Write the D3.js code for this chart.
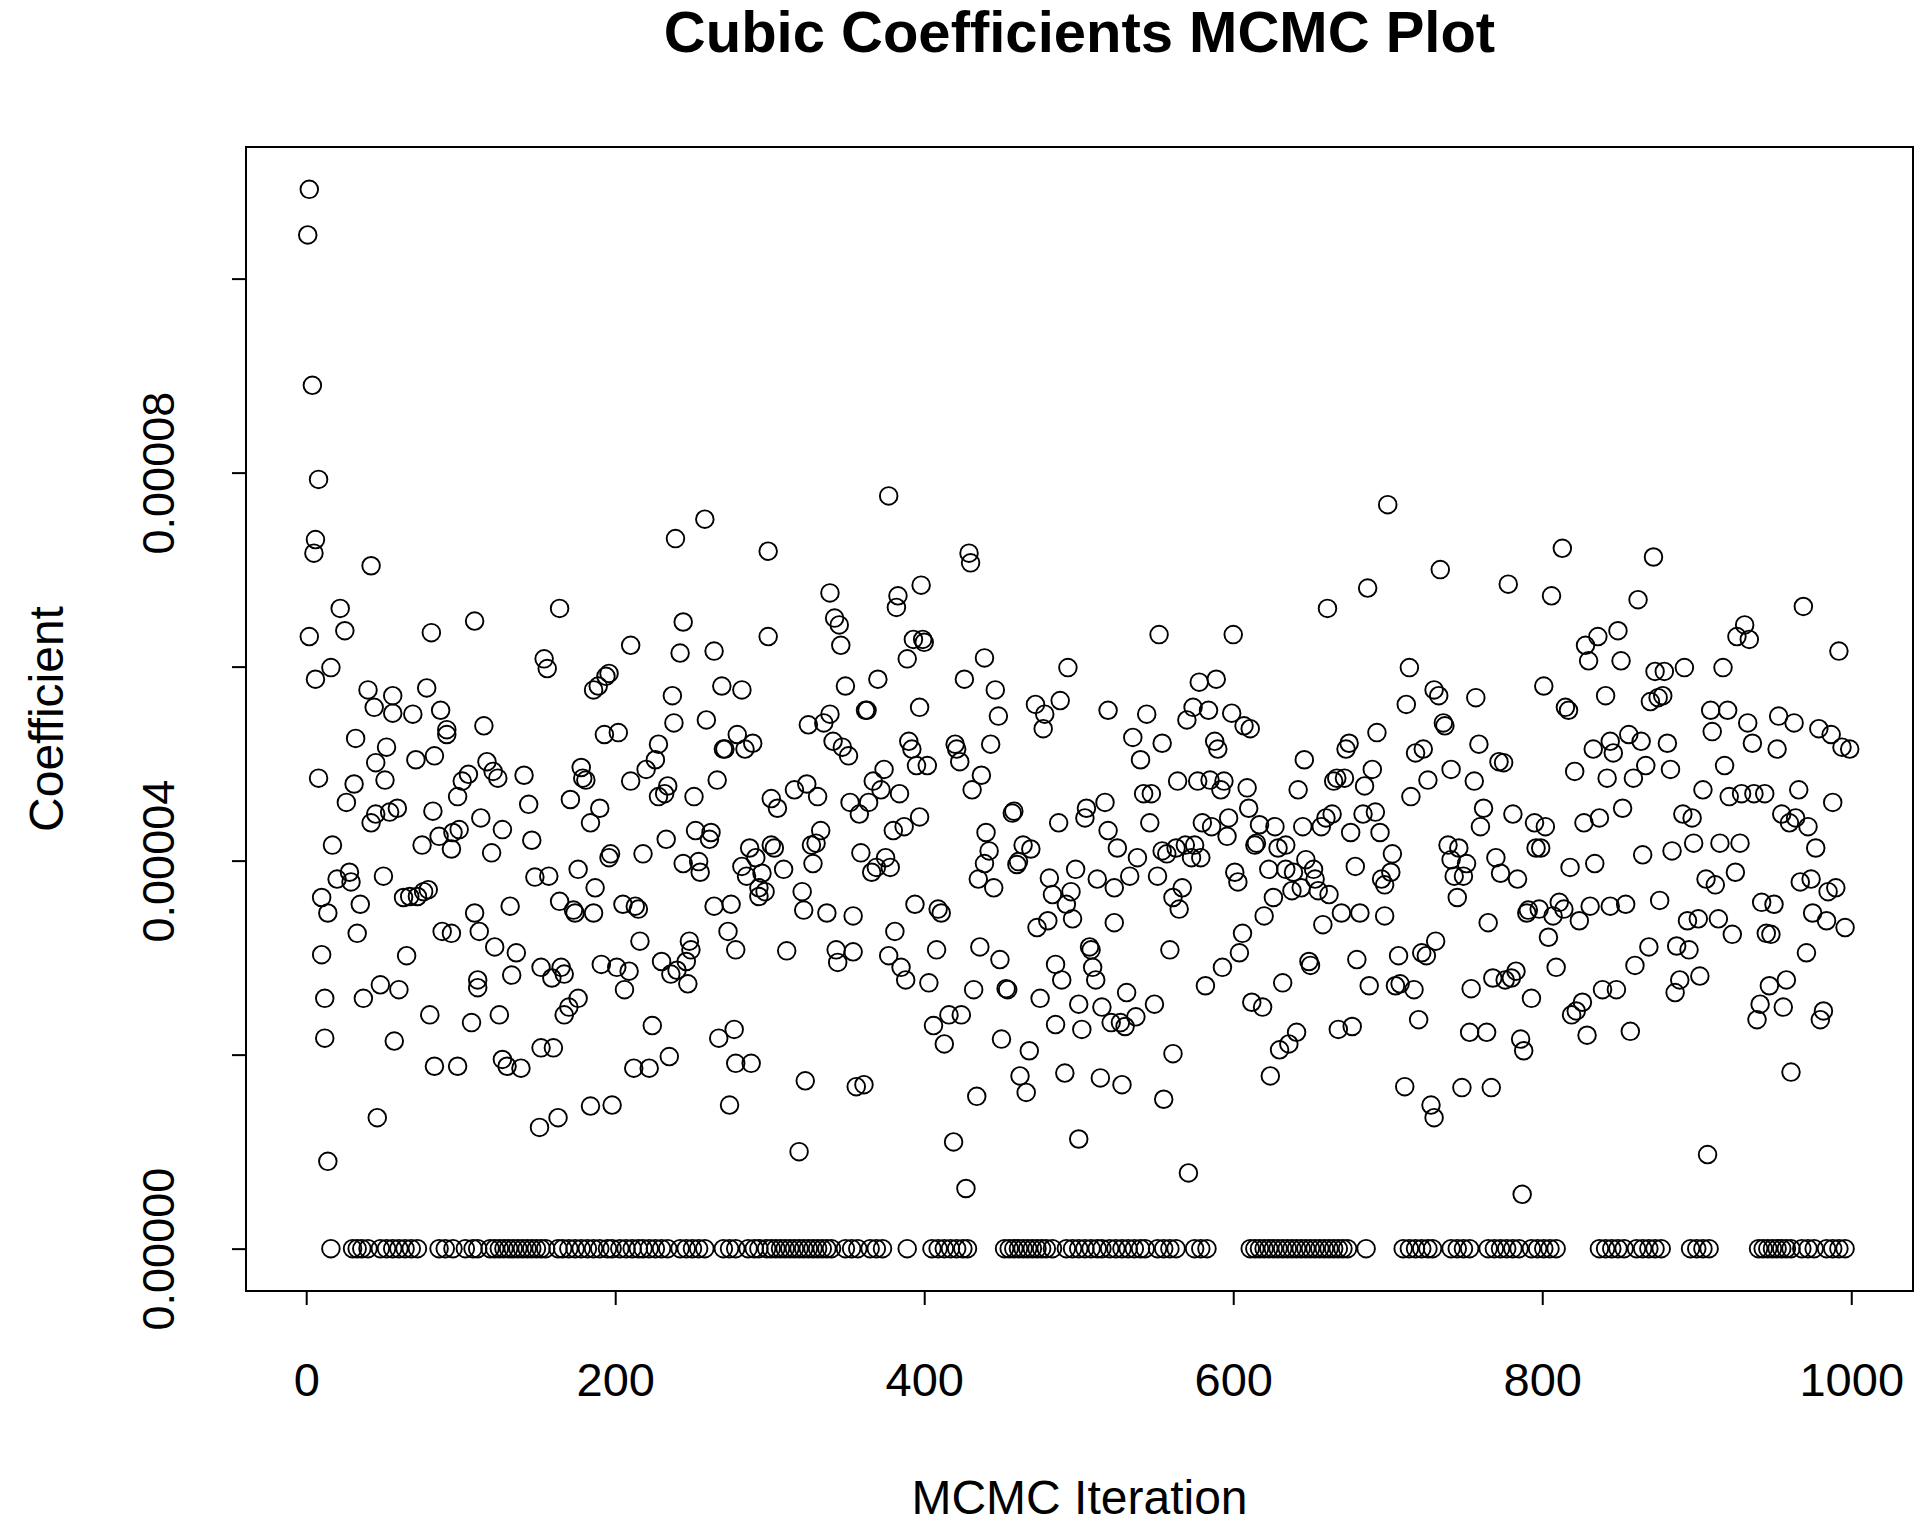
<!DOCTYPE html>
<html>
<head>
<meta charset="utf-8">
<script src="https://cdn.jsdelivr.net/npm/d3@7"></script>
<style>
  body { margin: 0; background: #fff; }
  svg text { font-family: "Liberation Sans", Arial, sans-serif; fill: #000; }
</style>
</head>
<body>
<div id="chart"></div>
<script>
// MCMC draws of the cubic coefficient, values in units of 1e-5
const sampleIter = [
  2,1,4,8,6,5,2,6,16,8,17,10,14,10,12,12,14,22,25,20,28,29,26,31,32,33,35,37,40,42,42,45,44,45,46,48,50,51,52,54,
  56,56,57,59,60,63,65,67,69,71,72,75,76,78,79,81,80,82,83,83,86,87,88,91,91,94,95,94,98,98,99,101,105,107,109,109,112,111,111,113,
  115,117,120,121,122,124,125,127,127,130,132,133,136,139,141,144,146,148,151,152,154,156,152,157,159,160,163,164,164,165,167,167,170,171,173,174,176,176,178,179,
  181,184,184,186,187,186,189,190,191,193,194,196,196,197,198,201,202,205,206,209,210,210,212,213,215,216,218,220,222,224,226,228,228,230,232,233,234,235,236,237,
  238,239,240,242,244,244,246,247,248,249,251,252,254,255,258,259,261,262,264,264,266,267,269,270,271,273,274,275,277,278,278,279,282,282,284,285,287,288,289,291,
  293,293,295,297,299,299,301,301,303,305,309,311,316,319,321,322,323,324,325,327,328,330,331,333,335,337,339,339,341,342,343,344,345,346,347,349,351,352,354,354,
  356,358,359,361,362,363,364,366,367,369,370,372,374,375,377,377,378,380,381,382,383,384,385,387,388,389,390,392,393,394,395,397,397,398,399,400,402,403,406,408,
  409,411,413,416,419,420,421,423,424,426,427,429,430,431,432,434,435,436,437,439,439,440,442,443,445,446,448,449,450,453,454,457,458,460,461,462,464,466,468,469,
  472,473,475,477,478,480,481,483,485,485,487,488,489,491,492,493,495,496,498,500,500,502,504,505,507,508,509,511,512,514,515,517,519,519,521,523,523,525,527,528,
  530,531,533,535,537,538,540,542,544,546,547,549,551,552,554,554,555,557,559,561,561,563,564,565,567,569,570,571,573,574,575,577,578,579,580,582,584,585,586,588,
  589,590,592,593,594,596,597,599,600,601,603,604,606,607,609,610,611,612,614,615,617,619,620,623,624,626,627,629,630,632,634,634,636,638,639,641,642,644,645,646,
  647,649,650,652,653,655,657,658,660,661,662,664,665,667,668,670,672,673,675,676,677,679,680,682,684,685,687,688,690,692,693,695,696,698,698,700,702,703,705,707,
  708,711,712,714,715,717,718,720,722,723,725,726,728,730,730,731,733,734,736,737,739,741,741,743,745,746,748,749,751,753,754,756,757,759,760,762,764,765,767,768,
  770,772,773,775,776,778,780,781,783,784,786,787,788,790,791,793,795,796,798,799,801,802,804,806,807,809,811,813,814,815,817,818,819,821,822,824,826,827,828,829,
  830,831,833,834,836,837,839,841,842,844,844,846,848,849,851,852,854,856,857,859,860,862,864,865,867,869,870,872,873,875,876,878,879,881,883,884,886,887,889,891,
  892,894,895,897,898,901,902,904,906,907,909,910,912,914,915,917,918,920,921,923,925,926,928,929,931,933,934,936,937,939,941,942,944,945,947,948,950,952,953,955,
  956,958,960,961,963,964,966,967,969,971,972,974,975,977,979,980,982,984,985,987,988,990,992,994,996,999
];
const sampleCoef = [
  10.92,10.45,8.90,7.93,7.31,7.17,6.31,5.87,5.99,4.85,4.16,3.62,3.46,3.03,2.58,2.17,0.90,6.60,6.37,3.81,3.88,3.78,4.60,4.79,5.26,3.25,3.55,2.58,5.76,7.04,4.39,4.48,5.58,5.01,1.35,2.72,3.84,4.83,5.17,4.50,
  5.70,5.52,2.14,4.54,2.67,3.62,3.02,3.63,5.51,5.04,3.63,4.16,3.68,5.78,3.70,6.35,2.41,4.51,1.88,5.08,4.25,5.55,3.27,5.35,5.30,4.12,4.29,3.25,1.88,4.66,4.32,4.82,4.89,2.33,6.47,3.46,3.27,2.77,2.69,4.44,
  5.39,5.02,4.08,4.92,3.11,4.85,2.41,4.32,1.95,1.88,3.53,2.82,3.05,1.86,4.88,4.58,4.21,3.83,1.25,2.90,6.08,5.98,2.07,3.84,2.79,2.07,1.35,6.60,3.58,2.90,2.83,2.41,2.49,4.63,3.49,3.46,3.91,2.58,4.96,4.85,
  4.83,1.47,4.39,3.46,3.72,5.76,5.80,4.54,2.93,5.30,5.90,5.93,4.03,4.07,1.48,2.90,5.32,3.55,2.67,2.86,4.82,6.22,1.86,3.53,3.50,3.17,4.07,4.94,1.86,2.30,5.04,5.20,4.66,2.96,4.69,4.22,4.77,1.98,2.83,5.70,
  5.42,7.32,2.87,6.14,6.46,3.97,2.96,2.73,3.17,3.08,4.66,4.31,3.99,3.88,7.52,5.45,4.22,4.29,6.16,3.53,4.83,2.17,5.80,5.15,5.15,3.27,1.48,3.55,2.26,3.08,1.91,5.30,5.76,3.94,5.15,3.84,4.13,1.91,5.21,4.03,
  3.72,3.63,3.87,3.68,7.19,6.31,4.16,4.64,4.13,4.54,3.91,3.07,4.73,1.00,3.68,3.49,1.73,4.79,5.40,4.16,3.97,4.18,4.66,4.31,5.42,3.46,6.76,5.51,5.23,6.50,3.08,2.95,6.43,6.22,5.17,5.80,5.08,4.60,3.06,3.43,
  1.67,4.48,4.08,1.69,5.55,5.55,4.60,3.88,4.82,3.93,5.87,4.73,4.94,4.03,7.76,3.02,3.93,4.31,3.27,6.61,6.73,4.69,2.90,4.35,2.77,6.08,5.23,5.15,6.28,3.55,4.98,5.58,4.45,6.84,6.28,6.25,4.98,2.74,2.30,3.08,
  3.50,3.46,2.11,2.41,1.10,5.20,5.15,5.02,2.41,5.87,0.62,7.17,7.07,4.73,2.67,1.57,3.81,3.11,4.88,6.09,3.97,4.29,4.10,5.20,3.72,5.76,5.49,2.98,2.16,2.68,2.67,4.49,4.51,3.96,3.99,1.78,4.16,1.61,2.04,4.12,
  5.61,3.31,2.58,5.36,5.51,3.38,3.82,3.65,2.93,2.31,4.39,5.65,2.77,1.81,3.55,5.99,3.68,3.40,3.91,1.13,2.52,2.26,4.44,4.54,3.11,3.08,2.90,2.77,3.81,1.76,2.49,4.60,5.55,4.31,2.33,3.36,3.72,4.13,2.33,1.69,
  2.29,2.64,3.84,5.27,2.39,4.03,5.04,4.69,5.51,4.39,4.69,2.52,3.84,6.33,4.10,5.21,1.54,4.07,3.08,2.01,3.62,4.13,4.82,3.50,3.72,4.16,5.45,0.78,4.03,5.58,4.16,4.82,5.84,4.03,4.39,2.71,5.55,4.83,4.35,5.23,
  5.87,5.15,4.73,2.90,4.82,4.25,4.44,5.52,6.33,3.88,3.78,3.05,3.25,5.39,4.75,4.54,5.36,2.54,4.16,4.18,4.37,2.49,3.43,3.91,1.78,3.62,4.35,4.13,2.05,2.74,3.91,4.16,2.11,3.69,3.88,2.23,4.73,3.72,4.35,5.04,
  4.01,2.96,2.92,3.91,3.81,3.69,4.35,3.34,4.44,6.60,3.65,4.48,4.82,4.85,2.26,3.46,4.85,5.15,5.21,4.29,2.29,3.94,2.98,3.46,4.48,4.77,6.81,2.71,4.94,4.50,5.32,4.29,3.81,3.43,3.75,7.67,3.88,4.07,2.71,3.02,
  2.73,1.67,5.61,5.99,4.66,2.67,5.11,2.36,3.05,5.15,3.02,4.83,1.48,1.35,5.76,3.17,5.70,7.00,5.42,5.39,4.16,4.94,4.01,3.84,3.62,4.13,1.66,3.84,3.97,2.23,2.68,4.82,5.68,5.20,4.35,4.54,2.23,3.36,1.66,2.79,
  4.03,5.02,3.87,5.01,2.77,6.85,2.79,4.48,2.86,3.81,2.16,0.56,2.04,3.46,3.49,2.58,4.39,4.13,3.50,4.13,5.80,4.35,3.21,6.73,3.43,2.90,3.57,7.22,3.50,5.58,5.55,3.93,2.41,4.92,2.45,3.38,2.54,4.39,6.22,2.20,
  6.06,3.53,5.15,3.97,6.31,4.44,2.67,5.70,4.85,5.23,3.53,5.11,2.67,6.37,6.06,4.54,3.55,5.30,2.24,4.85,2.92,6.69,5.23,4.06,4.98,3.11,5.64,7.13,5.95,5.68,3.59,5.70,5.95,5.21,4.94,4.10,2.64,3.12,2.77,4.48,
  5.99,3.38,3.08,4.44,4.18,3.40,2.81,4.73,3.81,0.97,5.55,5.33,3.75,3.40,4.18,5.99,4.98,5.55,4.66,3.24,3.88,6.31,4.18,4.69,6.43,5.42,6.28,5.21,4.69,2.36,2.52,3.57,4.69,3.25,2.71,3.24,3.55,5.15,5.49,4.48,
  2.49,2.77,4.39,1.82,5.42,4.44,4.73,3.78,6.62,3.05,4.35,3.81,3.46,4.13,5.36,2.36,2.45,3.38,3.68,5.30,4.60,3.72,6.16,5.17,3.31,5.15
];
// iterations where the sampled coefficient was exactly zero
const zeroIters = [
  16,30,33,36,40,48,52,56,60,64,68,72,86,90,95,103,108,111,119,122,125,128,131,134,137,140,143,146,149,152,155,
  163,166,170,174,178,182,186,190,195,198,203,207,211,215,218,222,226,230,234,242,246,250,254,258,270,274,278,286,290,293,
  298,301,304,307,310,313,316,319,322,325,328,331,334,337,340,349,353,357,365,369,373,389,405,409,413,417,421,425,428,
  452,455,458,461,464,467,470,473,476,479,483,492,496,500,504,508,512,515,520,524,528,532,536,540,543,551,555,559,563,
  575,579,583,611,614,617,620,623,626,629,632,635,638,641,644,647,650,653,656,659,662,665,668,671,674,686,
  710,714,718,722,726,729,741,745,749,753,765,769,773,777,781,785,793,797,801,805,809,837,841,845,849,853,
  861,865,869,873,877,896,900,904,908,940,943,946,949,952,955,958,961,968,972,976,984,988,992,996
];
const coefUnit = 1e-5;
const xTicks = [0, 200, 400, 600, 800, 1000];
const yTicks = [0, 2, 4, 6, 8, 10];
const yLabelled = [0, 4, 8];

const width = 1920, height = 1529;
const box = { left: 246, right: 1913, top: 147, bottom: 1291 };

const points = sampleIter.map((it, i) => ({ it, v: sampleCoef[i] }))
  .concat(zeroIters.map(it => ({ it, v: 0 })));

// R-style 4% padding on both axes
const xMin = 1, xMax = 1000;
const xPad = (xMax - xMin) * 0.04;
const yMax = d3.max(points, d => d.v), yMin = 0;
const yPad = (yMax - yMin) * 0.04;

const x = d3.scaleLinear().domain([xMin - xPad, xMax + xPad]).range([box.left, box.right]);
const y = d3.scaleLinear().domain([yMin - yPad, yMax + yPad]).range([box.bottom, box.top]);

const svg = d3.select("#chart").append("svg")
  .attr("width", width).attr("height", height);

svg.append("rect").attr("width", width).attr("height", height).attr("fill", "#fff");

// points
svg.append("g")
  .selectAll("circle")
  .data(points)
  .join("circle")
  .attr("cx", d => x(d.it))
  .attr("cy", d => y(d.v))
  .attr("r", 8.8)
  .attr("fill", "none")
  .attr("stroke", "#000")
  .attr("stroke-width", 1.9);

// box
svg.append("rect")
  .attr("x", box.left).attr("y", box.top)
  .attr("width", box.right - box.left).attr("height", box.bottom - box.top)
  .attr("fill", "none").attr("stroke", "#000").attr("stroke-width", 2);

// x axis
const xAxis = svg.append("g")
  .attr("transform", `translate(0,${box.bottom})`)
  .call(d3.axisBottom(x).tickValues(xTicks).tickSize(14).tickSizeOuter(0)
    .tickPadding(58).tickFormat(d3.format("d")));
xAxis.select(".domain").attr("d", `M${x(0)},0H${x(1000)}`).attr("stroke-width", 2);
xAxis.selectAll(".tick line").attr("stroke-width", 2);
xAxis.selectAll(".tick text").attr("font-size", 47).attr("fill", "#000");

// y axis
const yAxis = svg.append("g")
  .attr("transform", `translate(${box.left},0)`)
  .call(d3.axisLeft(y).tickValues(yTicks).tickSize(14).tickSizeOuter(0)
    .tickFormat(d => yLabelled.includes(d) ? (d * coefUnit).toFixed(5) : ""));
yAxis.select(".domain").attr("d", `M0,${y(0)}V${y(10)}`).attr("stroke-width", 2);
yAxis.selectAll(".tick line").attr("stroke-width", 2);
yAxis.selectAll(".tick text")
  .attr("font-size", 45).attr("fill", "#000")
  .attr("text-anchor", "middle")
  .attr("x", 0).attr("dy", 0)
  .attr("transform", "translate(-72,0) rotate(-90)");

// title and axis labels
svg.append("text")
  .attr("x", (box.left + box.right) / 2).attr("y", 52)
  .attr("text-anchor", "middle")
  .attr("font-size", 58).attr("font-weight", "bold")
  .text("Cubic Coefficients MCMC Plot");

svg.append("text")
  .attr("x", (box.left + box.right) / 2).attr("y", 1514)
  .attr("text-anchor", "middle")
  .attr("font-size", 48)
  .text("MCMC Iteration");

svg.append("text")
  .attr("transform", `translate(63,${(box.top + box.bottom) / 2}) rotate(-90)`)
  .attr("text-anchor", "middle")
  .attr("font-size", 48)
  .text("Coefficient");
</script>
</body>
</html>
